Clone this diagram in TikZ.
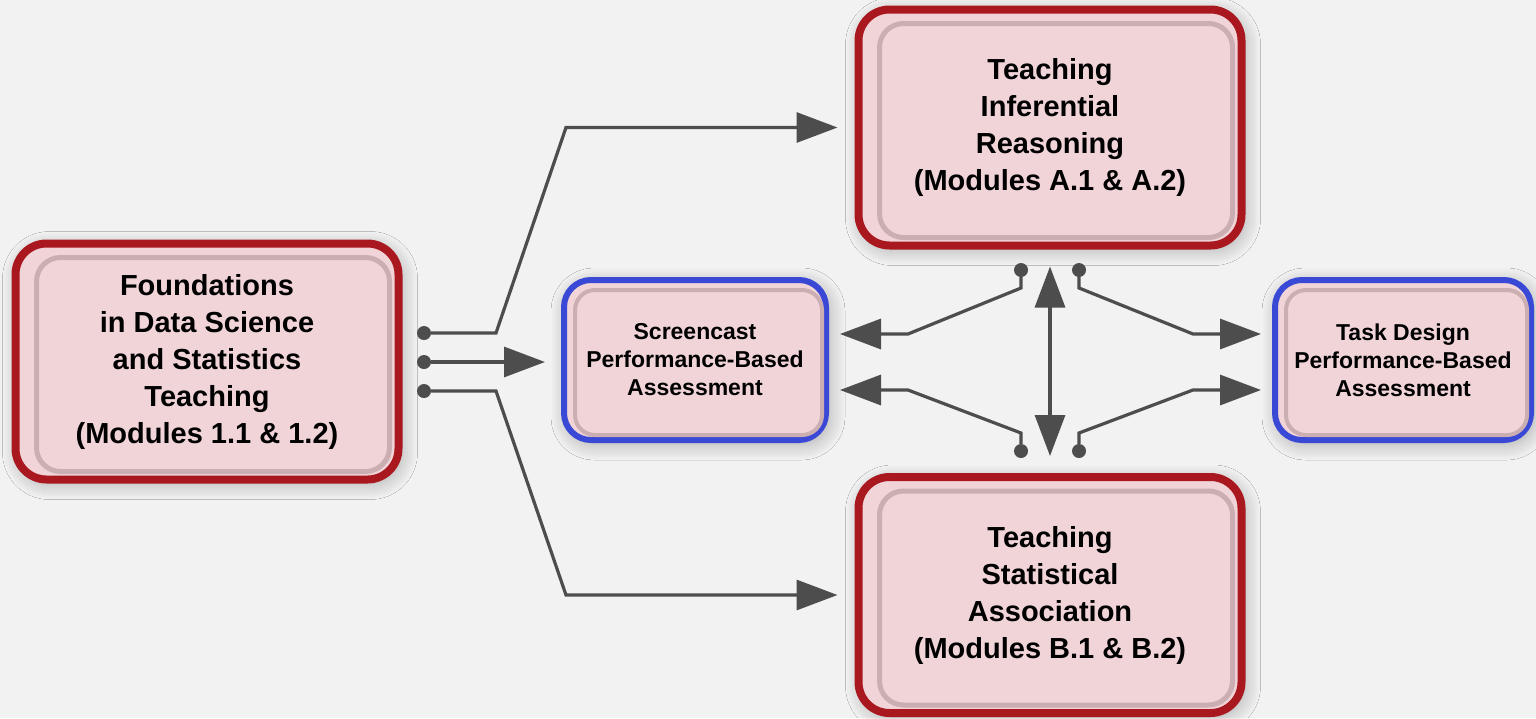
\documentclass[tikz,border=0pt]{standalone}
\usepackage{fontspec}
\setmainfont{Liberation Sans}
\usetikzlibrary{arrows.meta}
\usetikzlibrary{shadows.blur}

\definecolor{bgcol}{HTML}{F2F2F2}
\definecolor{modred}{HTML}{A8181E}
\definecolor{pbablue}{HTML}{3A48D6}
\definecolor{boxpink}{HTML}{F0D4D8}
\definecolor{bevelcol}{HTML}{CBAEB2}
\definecolor{wiregray}{HTML}{4D4D4D}

\tikzset{
  module/.style={draw=modred, line width=8pt, fill=boxpink, rounded corners=31pt,
    minimum width=383pt, minimum height=236pt, align=center,
    font=\fontsize{29}{37}\selectfont\bfseries,
    blur shadow={shadow blur radius=16pt, shadow blur steps=16, shadow xshift=3pt, shadow yshift=-4pt, shadow opacity=30}},
  pba/.style={module, draw=pbablue, line width=6pt, rounded corners=27pt,
    minimum height=160pt, font=\fontsize{23}{28}\selectfont\bfseries},
  bevel/.style={draw=bevelcol, line width=5pt, rounded corners=24pt},
  dot/.style={circle, fill=wiregray, inner sep=0pt, minimum size=14pt},
  wire/.style={draw=wiregray, line width=3.2pt, -{Triangle[length=41pt,width=30pt]}},
}

\begin{document}
\begin{tikzpicture}[x=1pt, y=-1pt]

  \useasboundingbox[fill=bgcol] (0,0) rectangle (1536,718);

  % Define nodes
  \node[module] (foundations) at (207,361.5) {Foundations\\in Data Science\\and Statistics\\Teaching\\(Modules 1.1 \& 1.2)};
  \node[module] (inferential) at (1050,127.5) {Teaching\\Inferential\\Reasoning\\(Modules A.1 \& A.2)};
  \node[module] (association) at (1050,595) {Teaching\\Statistical\\Association\\(Modules B.1 \& B.2)};
  \node[pba, minimum width=262pt] (screencast) at (695,360) {Screencast\\Performance-Based\\Assessment};
  \node[pba, minimum width=256pt] (taskdesign) at (1403,360) {Task Design\\Performance-Based\\Assessment};

  % Inner tray of each box
  \foreach \b in {foundations,inferential,association}
    \draw[bevel] ([shift={(25pt,-18pt)}]\b.north west) rectangle ([shift={(-13pt,12pt)}]\b.south east);
  \foreach \b in {screencast,taskdesign}
    \draw[bevel, line width=4pt, rounded corners=20pt] ([shift={(14pt,-13pt)}]\b.north west) rectangle ([shift={(-7pt,8pt)}]\b.south east);

  % Connector dots
  \node[dot] (f1) at (424,333) {};
  \node[dot] (f2) at (424,362) {};
  \node[dot] (f3) at (424,391) {};
  \node[dot] (i1) at (1021,270) {};
  \node[dot] (i2) at (1079,270) {};
  \node[dot] (a1) at (1021,451) {};
  \node[dot] (a2) at (1079,451) {};

  % Connect the nodes
  \draw[wire, shorten >=17pt] (f1) -- (496,333) -- (566,127.5) -- (inferential.west);
  \draw[wire, shorten >=16pt] (f2) -- (f2 -| screencast.west);
  \draw[wire, shorten >=17pt] (f3) -- (496,391) -- (566,595) -- (association.west);
  \draw[wire, {Triangle[length=41pt,width=30pt]}-{Triangle[length=41pt,width=30pt]}, shorten <=17pt, shorten >=17pt] (inferential.south) -- (association.north);
  \draw[wire, shorten >=11pt] (i1) -- (1021,288) -- (908,334) -- (screencast.east |- 0,334);
  \draw[wire, shorten >=11pt] (a1) -- (1021,433) -- (908,390) -- (screencast.east |- 0,390);
  \draw[wire, shorten >=11pt] (i2) -- (1079,288) -- (1193,334) -- (taskdesign.west |- 0,334);
  \draw[wire, shorten >=11pt] (a2) -- (1079,433) -- (1193,390) -- (taskdesign.west |- 0,390);

\end{tikzpicture}
\end{document}
